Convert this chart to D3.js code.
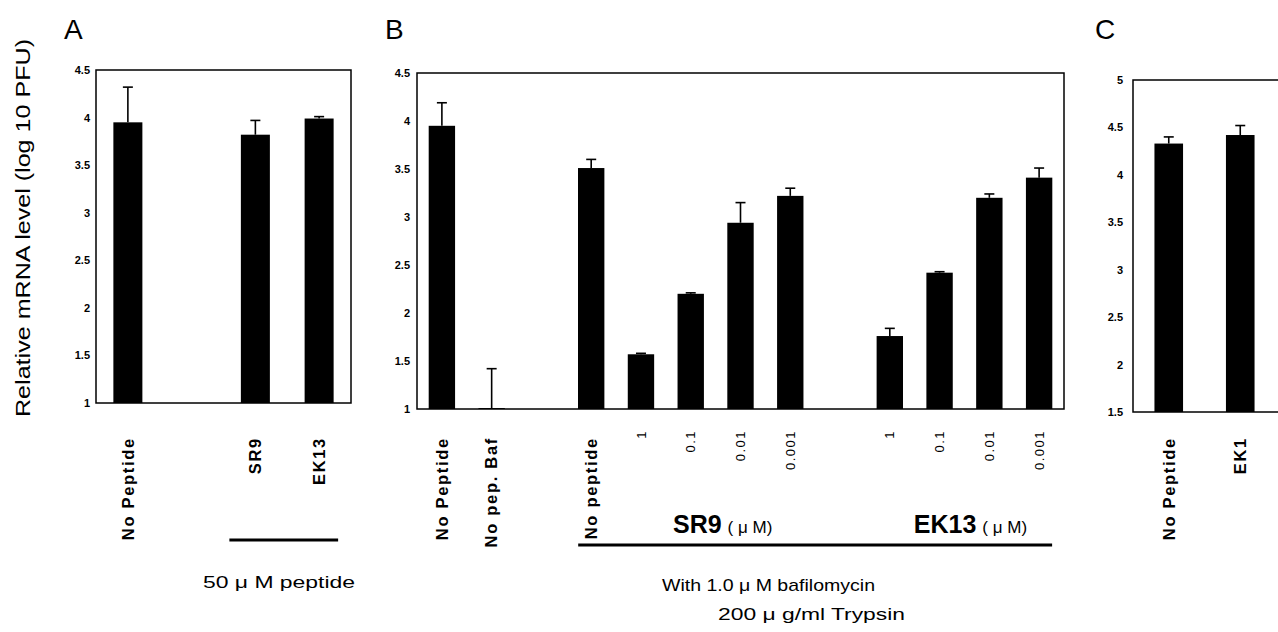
<!DOCTYPE html>
<html><head><meta charset="utf-8">
<script src="https://cdn.jsdelivr.net/npm/d3@7"></script>
<style>body{margin:0;background:#fff}svg{display:block}</style>
</head><body><svg id="c" width="1278" height="632"></svg>
<script>
// ---------- data ----------
const catsA  = ["No Peptide", "", "SR9", "EK13"];
const valsA  = [3.95, null, 3.82, 3.99];
const errA   = [0.37, null, 0.15, 0.02];
const ticksA = [1, 1.5, 2, 2.5, 3, 3.5, 4, 4.5];

const catsB  = ["No Peptide", "No pep.  Baf", "", "No peptide", "1", "0.1", "0.01", "0.001", "", "1", "0.1", "0.01", "0.001"];
const kindB  = ["name", "name", "", "name", "dose", "dose", "dose", "dose", "", "dose", "dose", "dose", "dose"];
const valsB  = [3.95, 1.01, null, 3.51, 1.57, 2.20, 2.94, 3.22, null, 1.76, 2.42, 3.20, 3.41];
const errB   = [0.24, 0.41, null, 0.09, 0.01, 0.01, 0.21, 0.08, null, 0.08, 0.01, 0.04, 0.10];
const ticksB = [1, 1.5, 2, 2.5, 3, 3.5, 4, 4.5];

const catsC  = ["No Peptide", "EK1", ""];
const valsC  = [4.33, 4.42, null];
const errC   = [0.07, 0.10, null];
const ticksC = [1.5, 2, 2.5, 3, 3.5, 4, 4.5, 5];

const yTitle = "Relative mRNA level (log 10 PFU)";
const panelLetters = ["A", "B", "C"];

// ---------- drawing ----------
const svg = d3.select("#c");
const FONT = "'Liberation Sans', Arial, Helvetica, sans-serif";

function panel(cfg) {
  const g = svg.append("g");
  const x = d3.scaleBand().domain(d3.range(cfg.cats.length))
    .range([cfg.x0, cfg.x1]).paddingInner(cfg.pad).paddingOuter(cfg.pad / 2);
  const y = d3.scaleLinear().domain(cfg.domain).range([cfg.y1, cfg.y0]);

  const ax = g.append("g").attr("transform", `translate(${cfg.x0},0)`)
    .call(d3.axisLeft(y).tickValues(cfg.ticks).tickSize(0).tickPadding(cfg.tp).tickFormat(d => String(d)));
  ax.select(".domain").remove();
  ax.selectAll("text").attr("font-family", FONT).attr("font-size", 11)
    .attr("font-weight", "bold").attr("fill", "#000");

  const idx = d3.range(cfg.cats.length).filter(i => cfg.vals[i] != null);
  g.selectAll("rect.bar").data(idx).join("rect").attr("class", "bar")
    .attr("x", i => x(i)).attr("width", x.bandwidth())
    .attr("y", i => y(cfg.vals[i])).attr("height", i => y(cfg.domain[0]) - y(cfg.vals[i]))
    .attr("fill", "#000");

  const cx = i => x(i) + x.bandwidth() / 2;
  g.selectAll("line.ev").data(idx).join("line").attr("class", "ev")
    .attr("x1", cx).attr("x2", cx)
    .attr("y1", i => y(cfg.vals[i])).attr("y2", i => y(cfg.vals[i] + cfg.errs[i]))
    .attr("stroke", "#000").attr("stroke-width", 1.6);
  g.selectAll("line.ec").data(idx).join("line").attr("class", "ec")
    .attr("x1", i => cx(i) - 5).attr("x2", i => cx(i) + 5)
    .attr("y1", i => y(cfg.vals[i] + cfg.errs[i])).attr("y2", i => y(cfg.vals[i] + cfg.errs[i]))
    .attr("stroke", "#000").attr("stroke-width", 1.6);

  g.append("rect").attr("x", cfg.x0).attr("y", cfg.y0)
    .attr("width", cfg.x1 - cfg.x0).attr("height", cfg.y1 - cfg.y0)
    .attr("fill", "none").attr("stroke", "#000").attr("stroke-width", 1.5);

  // category labels
  d3.range(cfg.cats.length).filter(i => cfg.cats[i] !== "").forEach(i => {
    const kind = cfg.kind ? cfg.kind[i] : "name";
    const top = kind === "dose" ? 430 : 437;
    const t = g.append("text")
      .attr("transform", `translate(${cx(i)},${top}) rotate(-90)`)
      .attr("text-anchor", "end").attr("dy", "0.35em")
      .attr("font-family", FONT).attr("fill", "#000")
      .text(cfg.cats[i]);
    if (kind === "dose") t.attr("font-size", 13).attr("letter-spacing", 1.5);
    else t.attr("font-size", 16.5).attr("font-weight", "bold").attr("letter-spacing", 1.7);
  });

  g.append("text").attr("x", cfg.lx).attr("y", 39)
    .attr("font-family", FONT).attr("font-size", 28).attr("fill", "#000").text(cfg.letter);
  return { x, y, cx };
}

const A = panel({ x0: 96, x1: 351, y0: 70, y1: 403, domain: [1, 4.5], ticks: ticksA, tp: 6,
  cats: catsA, vals: valsA, errs: errA, pad: 0.545, lx: 64, letter: panelLetters[0] });
const B = panel({ x0: 417, x1: 1064, y0: 73, y1: 409, domain: [1, 4.5], ticks: ticksB, tp: 7,
  cats: catsB, kind: kindB, vals: valsB, errs: errB, pad: 0.47, lx: 385, letter: panelLetters[1] });
const C = panel({ x0: 1133, x1: 1347.5, y0: 80, y1: 412, domain: [1.5, 5], ticks: ticksC, tp: 10,
  cats: catsC, vals: valsC, errs: errC, pad: 0.6, lx: 1095, letter: panelLetters[2] });

// y axis title
svg.append("text").attr("transform", "translate(23,228) rotate(-90)")
  .attr("text-anchor", "middle").attr("dy", "0.35em")
  .attr("font-family", FONT).attr("font-size", 21).attr("fill", "#000")
  .attr("textLength", 378).attr("lengthAdjust", "spacingAndGlyphs")
  .text(yTitle);

// Panel A group line and caption
svg.append("line").attr("x1", A.cx(2) - 26).attr("x2", A.cx(3) + 19)
  .attr("y1", 540).attr("y2", 540).attr("stroke", "#000").attr("stroke-width", 3);
svg.append("text").attr("x", 203).attr("y", 588)
  .attr("font-family", FONT).attr("font-size", 17).attr("fill", "#000")
  .attr("textLength", 152).attr("lengthAdjust", "spacingAndGlyphs")
  .text("50 \u03BC M  peptide");

// Panel B group line and labels
svg.append("line").attr("x1", B.cx(3) - 13).attr("x2", B.cx(12) + 13)
  .attr("y1", 545).attr("y2", 545).attr("stroke", "#000").attr("stroke-width", 3);

function groupLabel(name, xStart) {
  const t = svg.append("text").attr("x", xStart).attr("y", 533)
    .attr("font-family", FONT).attr("fill", "#000");
  t.append("tspan").attr("font-size", 25).attr("font-weight", "bold").text(name);
  t.append("tspan").attr("font-size", 17).attr("dx", 6).text("( \u03BC M)");
}
groupLabel("SR9", B.cx(4) + 32);
groupLabel("EK13", B.cx(9) + 24);

svg.append("text").attr("x", 662).attr("y", 591)
  .attr("font-family", FONT).attr("font-size", 17).attr("fill", "#000")
  .attr("textLength", 213).attr("lengthAdjust", "spacingAndGlyphs")
  .text("With 1.0 \u03BC M   bafilomycin");
svg.append("text").attr("x", 718).attr("y", 620)
  .attr("font-family", FONT).attr("font-size", 17).attr("fill", "#000")
  .attr("textLength", 187).attr("lengthAdjust", "spacingAndGlyphs")
  .text("200 \u03BC g/ml Trypsin");
</script></body></html>
